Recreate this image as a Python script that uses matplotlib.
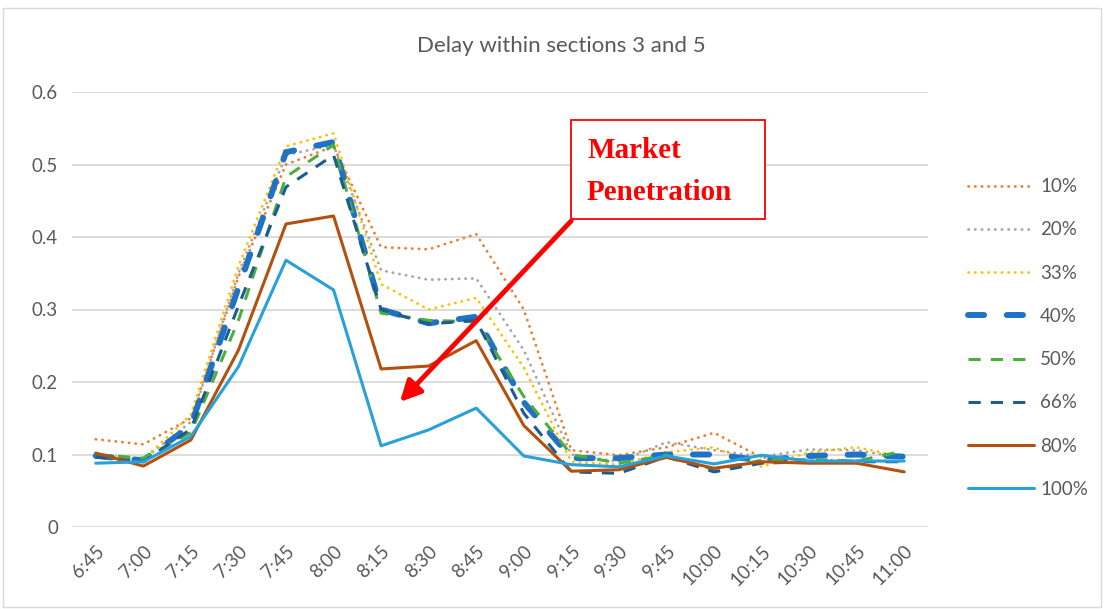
import matplotlib
matplotlib.use("Agg")
import matplotlib.pyplot as plt
from matplotlib.patches import Rectangle, FancyArrowPatch

times = ['6:45', '7:00', '7:15', '7:30', '7:45', '8:00', '8:15', '8:30', '8:45',
         '9:00', '9:15', '9:30', '9:45', '10:00', '10:15', '10:30', '10:45', '11:00']

p10 = [0.121, 0.114, 0.150, 0.345, 0.500, 0.525, 0.386, 0.383, 0.404, 0.300,
       0.106, 0.099, 0.110, 0.130, 0.096, 0.092, 0.092, 0.090]
p20 = [0.100, 0.093, 0.145, 0.350, 0.513, 0.527, 0.354, 0.341, 0.343, 0.244,
       0.100, 0.090, 0.117, 0.106, 0.097, 0.107, 0.106, 0.095]
p33 = [0.100, 0.093, 0.155, 0.360, 0.525, 0.543, 0.335, 0.300, 0.316, 0.220,
       0.090, 0.086, 0.103, 0.110, 0.083, 0.103, 0.110, 0.096]
p40 = [0.098, 0.092, 0.140, 0.330, 0.517, 0.531, 0.300, 0.281, 0.290, 0.172,
       0.095, 0.095, 0.100, 0.100, 0.092, 0.098, 0.100, 0.097]
p50 = [0.100, 0.095, 0.130, 0.285, 0.483, 0.527, 0.295, 0.285, 0.283, 0.180,
       0.100, 0.088, 0.099, 0.079, 0.092, 0.093, 0.091, 0.105]
p66 = [0.097, 0.090, 0.135, 0.305, 0.469, 0.513, 0.300, 0.280, 0.285, 0.157,
       0.076, 0.074, 0.097, 0.076, 0.088, 0.090, 0.090, 0.090]
p80 = [0.102, 0.084, 0.120, 0.244, 0.418, 0.429, 0.218, 0.222, 0.257, 0.140,
       0.077, 0.079, 0.096, 0.081, 0.090, 0.088, 0.088, 0.076]
p100 = [0.088, 0.090, 0.125, 0.221, 0.368, 0.327, 0.112, 0.134, 0.164, 0.098,
        0.086, 0.083, 0.098, 0.087, 0.099, 0.091, 0.091, 0.091]

labels = ['10%', '20%', '33%', '40%', '50%', '66%', '80%', '100%']
series = [p10, p20, p33, p40, p50, p66, p80, p100]
colors = ['#ED7D31', '#A5A5A5', '#FFC000', '#1F72C4', '#4CAE3C', '#1D5C92', '#B4500E', '#28A0DA']
styles = [
    dict(lw=2.0, ls=(0, (0.1, 2.3)), dash_capstyle='round'),
    dict(lw=2.0, ls=(0, (0.1, 2.3)), dash_capstyle='round'),
    dict(lw=2.0, ls=(0, (0.1, 2.3)), dash_capstyle='round'),
    dict(lw=4.3, ls=(0, (2.7, 3.8)), dash_capstyle='round'),
    dict(lw=2.2, ls=(0, (4, 3.3)), dash_capstyle='butt'),
    dict(lw=2.2, ls=(0, (4, 3.3)), dash_capstyle='butt'),
    dict(lw=2.2, ls='-'),
    dict(lw=2.2, ls='-'),
]

plt.rcParams['font.family'] = ['Lato', 'DejaVu Sans']
grey_txt = '#595959'

fig = plt.figure(figsize=(11.04, 6.09), dpi=100)
W, H = 1104, 609
ax = fig.add_axes([72 / W, 1 - 527 / H, (928 - 72) / W, (527 - 92) / H])

x = list(range(len(times)))
for s, lab, c, st in zip(series, labels, colors, styles):
    ax.plot(x, s, color=c, label=lab, solid_capstyle='round', **st)

ax.set_xlim(-0.5, len(times) - 0.5)
ax.set_ylim(0, 0.6)
ax.set_yticks([0, 0.1, 0.2, 0.3, 0.4, 0.5, 0.6])
ax.set_yticklabels(['0', '0.1', '0.2', '0.3', '0.4', '0.5', '0.6'])
ax.set_xticks(x)
ax.set_xticklabels(times, rotation=45, ha='right', rotation_mode='anchor')
ax.tick_params(axis='both', length=0, colors=grey_txt, labelsize=13.5)
ax.tick_params(axis='y', pad=10)
ax.tick_params(axis='x', pad=11)
ax.grid(axis='y', color='#D9D9D9', lw=1.3)
ax.set_axisbelow(True)
for sp in ax.spines.values():
    sp.set_visible(False)

fig.text(561 / W, 1 - 46 / H, 'Delay within sections 3 and 5', ha='center', va='center',
         fontsize=16, color=grey_txt)

leg = fig.legend(loc='center left', bbox_to_anchor=(968 / W, 1 - 338 / H), frameon=False,
                 fontsize=13.5, handlelength=3.5, handletextpad=0.35, labelspacing=1.4,
                 borderpad=0, borderaxespad=0)
for t in leg.get_texts():
    t.set_color(grey_txt)

# annotation box and arrow
fig.patches.append(Rectangle((571 / W, 1 - 219 / H), (765 - 571) / W, (219 - 120) / H,
                             transform=fig.transFigure, fill=True, facecolor='white',
                             edgecolor='red', lw=1.3, zorder=5))
fig.text(587 / W, 1 - 151 / H, 'Market', fontsize=21, fontweight='bold', color='red',
         family='Liberation Serif', ha='left', va='center', zorder=6)
fig.text(587 / W, 1 - 193 / H, 'Penetration', fontsize=21, fontweight='bold', color='red',
         family='Liberation Serif', ha='left', va='center', zorder=6)
arr = FancyArrowPatch((573 / W, 1 - 219 / H), (398 / W, 1 - 404 / H), transform=fig.transFigure,
                      arrowstyle='-|>,head_length=0.5,head_width=0.25', mutation_scale=25,
                      color='red', lw=3.5, zorder=7)
fig.patches.append(arr)

# outer chart border
fig.patches.append(Rectangle((3 / W, 2 / H), (W - 6) / W, (H - 10) / H, transform=fig.transFigure,
                             fill=False, edgecolor='#D9D9D9', lw=1.0))

fig.savefig('out.png', dpi=100)
